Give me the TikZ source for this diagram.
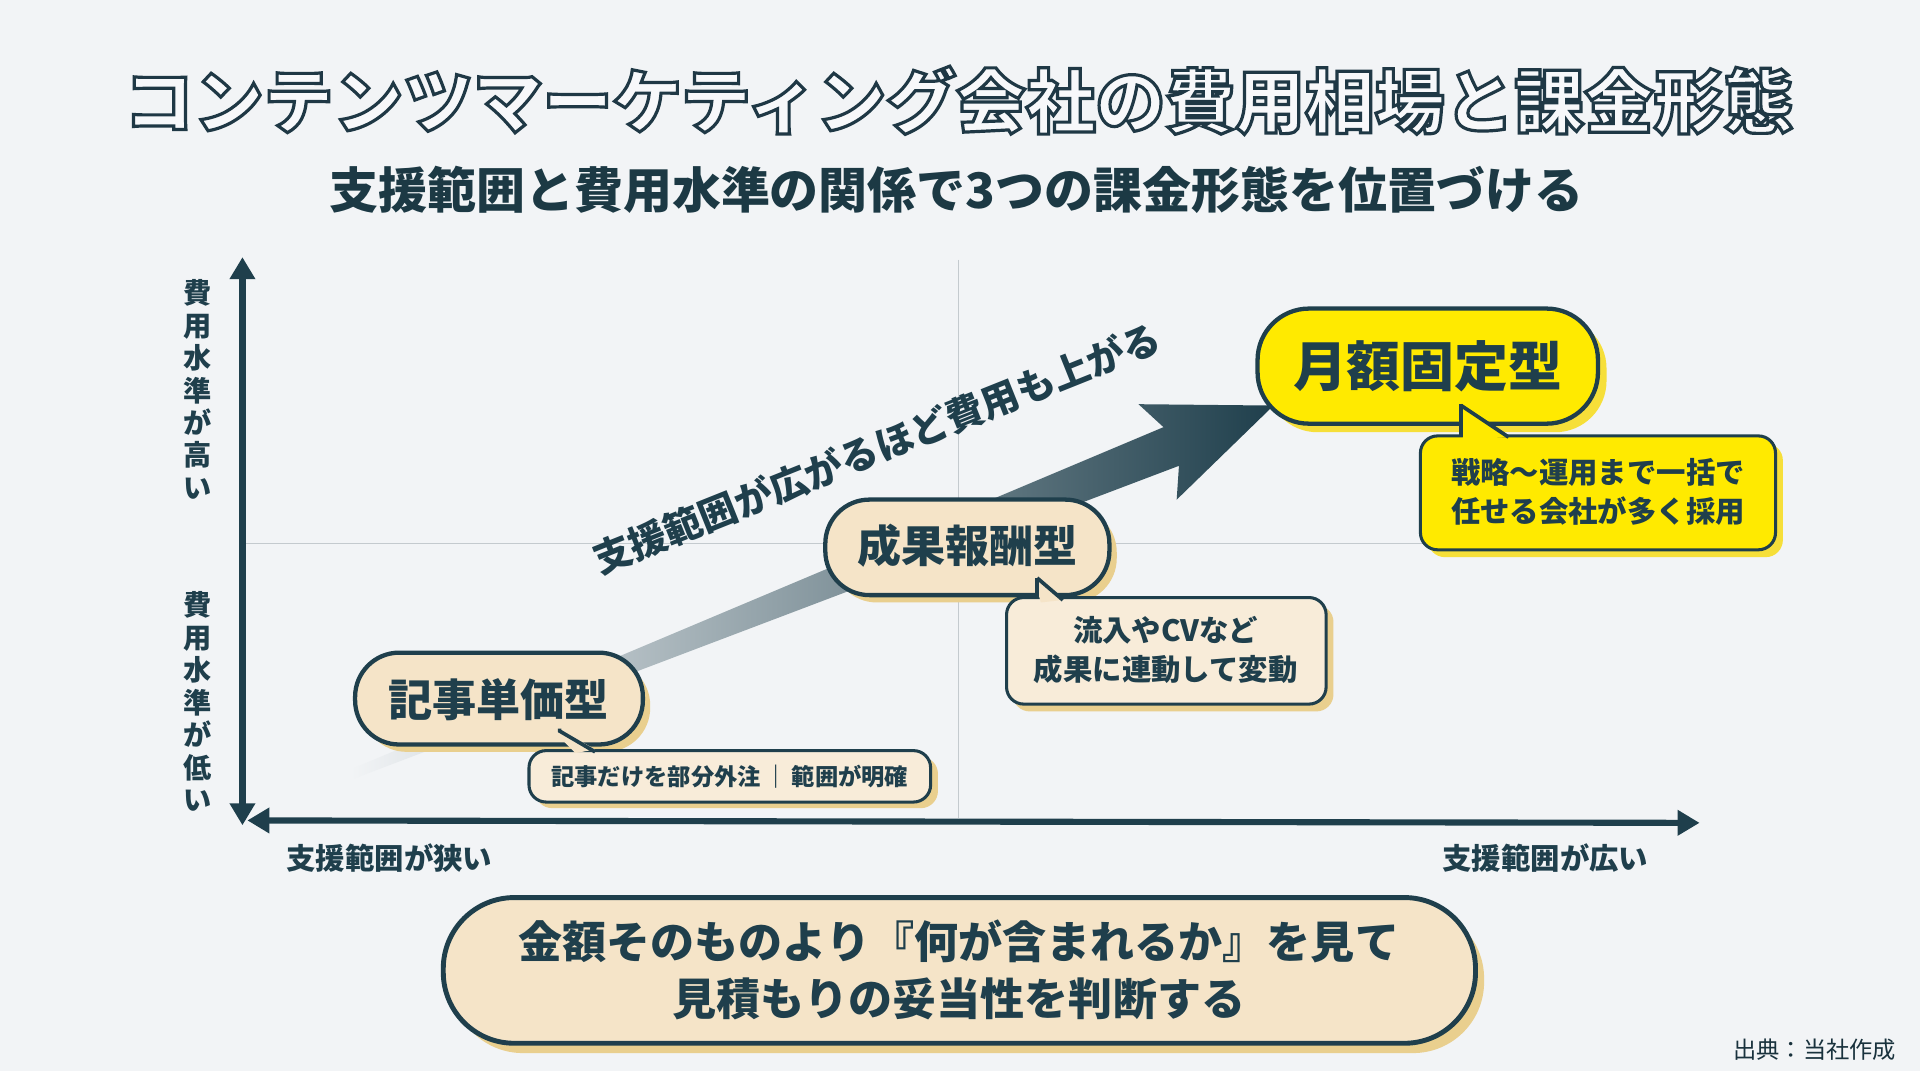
\documentclass[tikz,border=0pt]{standalone}
\usepackage{fontspec}
\setmainfont{Noto Sans CJK JP}
\usetikzlibrary{arrows.meta,shadows}
\definecolor{bg}{HTML}{F2F4F6}
\definecolor{ink}{HTML}{1F3F4C}
\definecolor{beige}{HTML}{F5E4C8}
\definecolor{lbeige}{HTML}{F8ECD9}
\definecolor{yel}{HTML}{FFEA00}
\definecolor{gold}{HTML}{E9CF8E}
\definecolor{grid}{HTML}{C4CACE}
\tikzset{
 bub/.style={draw=ink,line width=3.5pt,rounded corners=36pt,fill=beige},
 box/.style={draw=ink,line width=2.5pt,rounded corners=14pt,fill=lbeige},
 sh/.style={fill=gold,rounded corners=36pt},
 lab/.style={text=ink,font=\bfseries},
}
\newcommand{\outl}[1]{\special{pdf:literal direct q 0.12 0.22 0.27 RG 2.6 w 2 Tr}#1\special{pdf:literal direct Q}}
\begin{document}
\begin{tikzpicture}[x=1pt,y=-1pt]
\fill[bg] (0,0) rectangle (1568,875);
\useasboundingbox (0,0) rectangle (1568,875);
% title
\node[text=bg!60!white,font=\bfseries\fontsize{57}{60}\selectfont] (title) at (783,82) {\outl{コンテンツマーケティング会社の費用相場と課金形態}};
\node[lab,text=ink!90!black,font=\bfseries\fontsize{40}{42}\selectfont] (sub) at (781,155) {支援範囲と費用水準の関係で3つの課金形態を位置づける};
% grid
\draw[grid,line width=1pt] (783,212) -- (783,668);
\draw[grid,line width=1pt] (198,444) -- (1385,444);
% axes
\coordinate (o) at (198,670);
\coordinate (yt) at (198,210);
\coordinate (xt) at (1388,672);
\draw[ink,line width=5pt,{Triangle[length=18pt,width=20pt]}-{Triangle[length=18pt,width=20pt]}] ([yshift=-4pt]o) -- (yt);
\draw[ink,line width=5pt,{Triangle[length=18pt,width=20pt]}-{Triangle[length=18pt,width=20pt]}] ([xshift=4pt]o) -- (xt);
\node[lab,font=\bfseries\fontsize{23}{26.5}\selectfont,align=center] (yh) at (161,318) {費\\用\\水\\準\\が\\高\\い};
\node[lab,font=\bfseries\fontsize{23}{26.5}\selectfont,align=center] (yl) at (161,573) {費\\用\\水\\準\\が\\低\\い};
\node[lab,font=\bfseries\fontsize{24}{26}\selectfont] (xl) at (318,701) {支援範囲が狭い};
\node[lab,font=\bfseries\fontsize{24}{26}\selectfont] (xr) at (1262,701) {支援範囲が広い};
% big arrow
\begin{scope}[shift={(288,632)},rotate=21.8]
\shade[left color=bg,right color=ink,middle color=ink!50!bg] (0,-4) -- (720,-17) -- (708,-42) -- (810,0) -- (708,42) -- (720,17) -- (0,4) -- cycle;
\end{scope}
\node[lab,rotate=21.8,font=\bfseries\fontsize{31}{33}\selectfont] (diag) at (716,366) {支援範囲が広がるほど費用も上がる};
% bubble 1
\fill[sh] (296,540) rectangle (531,614);
\draw[bub] (290,533) rectangle (525,608);
\node[lab,font=\bfseries\fontsize{36}{40}\selectfont] (b1) at (407,571) {記事単価型};
\fill[gold,rounded corners=14pt] (437,618) rectangle (766,660);
\draw[box] (432,613) rectangle (760,655);
\node[lab,font=\bfseries\fontsize{19}{22}\selectfont] (t1) at (596,634) {記事だけを部分外注\,｜\,範囲が明確};
\fill[beige] (455,600) -- (458,596) -- (486,612) -- (470,615) -- cycle;
\draw[ink,line width=3pt] (457,595) -- (457,597) -- (486,614);
% bubble 2
\fill[sh] (680,415) rectangle (912,492);
\draw[bub] (674,408) rectangle (906,486);
\node[lab,font=\bfseries\fontsize{36}{40}\selectfont] (b2) at (790,446) {成果報酬型};
\fill[gold,rounded corners=14pt] (827,494) rectangle (1089,581);
\draw[box] (822,488) rectangle (1083,575);
\node[lab,align=center,font=\bfseries\fontsize{24}{32}\selectfont] (t2) at (952,531) {流入やCVなど\\成果に連動して変動};
\fill[beige] (846,478) -- (848,473) -- (868,490) -- (850,492) -- cycle;
\draw[ink,line width=3pt] (847,472) -- (847,487);
\draw[ink,line width=3pt] (847,472) -- (868,490);
% bubble 3
\fill[yel!60!gold,rounded corners=42pt] (1034,259) rectangle (1312,353);
\draw[bub,fill=yel,rounded corners=42pt] (1027,252) rectangle (1305,346);
\node[lab,font=\bfseries\fontsize{44}{48}\selectfont] (b3) at (1166,299) {月額固定型};
\fill[yel!60!gold,rounded corners=14pt] (1166,362) rectangle (1456,455);
\draw[box,fill=yel] (1160,356) rectangle (1450,449);
\node[lab,align=center,font=\bfseries\fontsize{24}{32}\selectfont] (t3) at (1305,402) {戦略〜運用まで一括で\\任せる会社が多く採用};
\fill[yel] (1192,340) -- (1196,332) -- (1232,357) -- (1195,359) -- cycle;
\draw[ink,line width=3pt] (1193,330) -- (1193,357);
\draw[ink,line width=3pt] (1193,331) -- (1232,357);
% bottom
\fill[gold,rounded corners=58pt] (369,741) rectangle (1212,860);
\draw[bub,line width=4pt,rounded corners=58pt] (362,733) rectangle (1205,852);
\node[lab,align=center,font=\bfseries\fontsize{36}{46}\selectfont] (msg) at (783,792) {金額そのものより『何が含まれるか』を見て\\見積もりの妥当性を判断する};
\node[text=ink!80!black,font=\fontsize{19}{22}\selectfont] (src) at (1482,857) {出典：当社作成};
\end{tikzpicture}
\end{document}
